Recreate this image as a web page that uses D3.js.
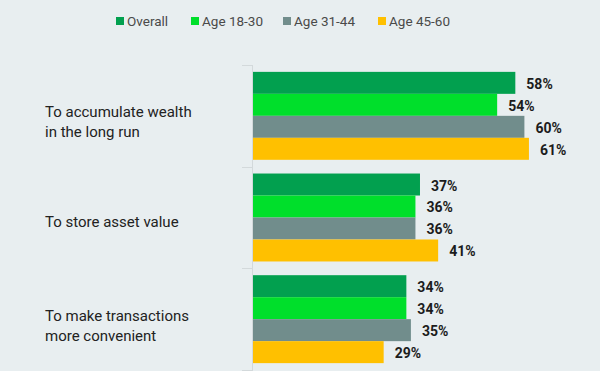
<!DOCTYPE html>
<html>
<head>
<meta charset="utf-8">
<script src="https://cdn.jsdelivr.net/npm/d3@7"></script>
<style>
  body { margin: 0; background: #e8eef0; }
  svg { display: block; font-family: Roboto, "Noto Sans", sans-serif; }
</style>
</head>
<body>
<div id="chart"></div>
<script>
// Data
var reasons = ["To accumulate wealth|in the long run", "To store asset value", "To make transactions|more convenient"];
var groups = ["Overall", "Age 18-30", "Age 31-44", "Age 45-60"];
var overall = [58, 37, 34];
var age18_30 = [54, 36, 34];
var age31_44 = [60, 36, 35];
var age45_60 = [61, 41, 29];
var colors = ["#02a04f", "#00df2b", "#718d8c", "#ffc000"];

var series = [overall, age18_30, age31_44, age45_60];
var rows = reasons.map(function(r, i) {
  return { reason: r, values: series.map(function(s, j) { return { key: groups[j], value: s[i] }; }) };
});

var width = 600, height = 371;

var svg = d3.select("#chart").append("svg")
    .attr("width", width)
    .attr("height", height);

svg.append("rect").attr("width", width).attr("height", height).attr("fill", "#e8eef0");

// scales
var x = d3.scaleLinear().domain([0, 100]).range([252, 706]);
var y0 = d3.scaleBand().domain(reasons).range([65, 370]).paddingInner(0.135).paddingOuter(0.0675);
var y1 = d3.scaleBand().domain(groups).range([0, y0.bandwidth()]);
var color = d3.scaleOrdinal().domain(groups).range(colors);

// axis line + ticks at band boundaries
var axis = svg.append("g");
axis.append("line")
    .attr("x1", 252.5).attr("x2", 252.5)
    .attr("y1", 65).attr("y2", 371)
    .attr("stroke", "#d3d9db").attr("stroke-width", 1);
var bounds = reasons.map(function(r) { return y0(r) - y0.step() * y0.paddingInner() / 2; });
bounds.push(370);
axis.selectAll("line.tick")
    .data(bounds)
    .enter().append("line")
    .attr("class", "tick")
    .attr("x1", 242).attr("x2", 252)
    .attr("y1", function(d) { return Math.round(d) + 0.5; })
    .attr("y2", function(d) { return Math.round(d) + 0.5; })
    .attr("stroke", "#d3d9db");

// bars
var grp = svg.selectAll("g.reason")
    .data(rows)
    .enter().append("g")
    .attr("class", "reason")
    .attr("transform", function(d) { return "translate(0," + y0(d.reason) + ")"; });

grp.selectAll("rect")
    .data(function(d) { return d.values; })
    .enter().append("rect")
    .attr("x", x(0) + 1)
    .attr("y", function(d) { return y1(d.key); })
    .attr("width", function(d) { return x(d.value) - x(0) - 1; })
    .attr("height", y1.bandwidth())
    .attr("fill", function(d) { return color(d.key); });

grp.selectAll("text.val")
    .data(function(d) { return d.values; })
    .enter().append("text")
    .attr("class", "val")
    .attr("x", function(d) { return x(d.value) + 11; })
    .attr("y", function(d) { return y1(d.key) + y1.bandwidth() / 2 + 6; })
    .style("font-size", "14px")
    .style("font-weight", "bold")
    .style("fill", "#1c1c1c")
    .text(function(d) { return d.value + "%"; });

// category labels
grp.each(function(d) {
  var lines = d.reason.split("|");
  var t = d3.select(this).append("text")
      .attr("x", 45)
      .style("font-size", "15px")
      .style("fill", "#222");
  var lh = 20;
  var start = y0.bandwidth() / 2 + 10 - (lines.length - 1) * (lh / 2 - 1.5);
  lines.forEach(function(l, i) {
    t.append("tspan").attr("x", 45).attr("y", start + i * lh).text(l);
  });
});

// legend
var legendX = [116, 191, 283, 378];
var legend = svg.selectAll("g.legend")
    .data(groups)
    .enter().append("g")
    .attr("class", "legend")
    .attr("transform", function(d, i) { return "translate(" + legendX[i] + ",17)"; });
legend.append("rect")
    .attr("width", 8).attr("height", 8)
    .attr("fill", function(d) { return color(d); });
legend.append("text")
    .attr("x", 11).attr("y", 9)
    .style("font-size", "13.5px")
    .style("fill", "#4a4a4a")
    .text(function(d) { return d; });
</script>
</body>
</html>
